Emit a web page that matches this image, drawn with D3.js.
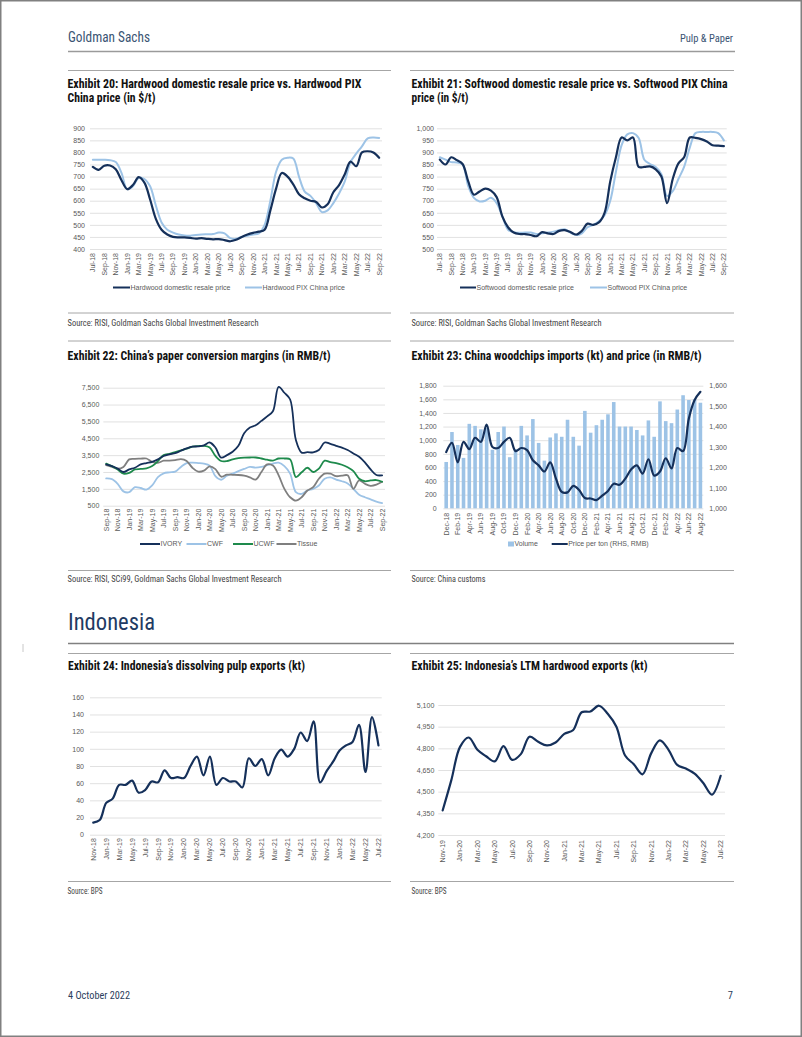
<!DOCTYPE html>
<html><head><meta charset="utf-8">
<script src="https://cdn.jsdelivr.net/npm/d3@7"></script>
<style>body{margin:0;background:#fff;}svg{display:block;}</style>
</head><body>
<script>
// ---------------- DATA ----------------
const months = ["Jul-18","Aug-18","Sep-18","Oct-18","Nov-18","Dec-18",
"Jan-19","Feb-19","Mar-19","Apr-19","May-19","Jun-19","Jul-19","Aug-19","Sep-19","Oct-19","Nov-19","Dec-19",
"Jan-20","Feb-20","Mar-20","Apr-20","May-20","Jun-20","Jul-20","Aug-20","Sep-20","Oct-20","Nov-20","Dec-20",
"Jan-21","Feb-21","Mar-21","Apr-21","May-21","Jun-21","Jul-21","Aug-21","Sep-21","Oct-21","Nov-21","Dec-21",
"Jan-22","Feb-22","Mar-22","Apr-22","May-22","Jun-22","Jul-22","Aug-22","Sep-22"];

// Exhibit 20 (Jul-18 .. Sep-22)
const ex20Cats = months;
const hwResale = [740,728,745,746,730,685,648,665,698,675, 605,525,480,460,450,448,448,446,443,445, 442,440,441,437,432,438,450,460,467,472, 480,560,650,715,700,668,627,610,600,595, 572,585,635,665,710,762,743,800,805,800, 778];
const hwPix    = [770,770,770,768,760,715,648,660,695,690, 660,580,510,480,468,460,456,455,458,460, 461,462,468,465,445,442,450,455,460,465, 500,600,720,770,778,775,700,638,620,590, 553,560,590,630,680,760,795,825,858,862, 860];
const ex20Ticks = [400,450,500,550,600,650,700,750,800,850,900];

// Exhibit 21 (Jul-18 .. Sep-22)
const ex21Cats = months;
const swResale = [870,850,880,868,852,780,725,738,750,742, 715,635,590,568,562,562,558,553,570,565, 562,575,578,570,560,575,605,600,610,650, 780,880,962,950,962,840,840,842,830,800, 690,790,855,880,962,960,955,945,930,928, 926];
const swPix    = [880,870,860,858,850,760,712,697,700,712, 690,635,580,570,567,568,568,562,565,568, 572,578,582,568,558,565,590,600,615,640, 700,820,930,975,980,960,870,852,840,810, 720,740,790,840,920,980,985,985,985,980, 950];
const ex21Ticks = [500,550,600,650,700,750,800,850,900,950,1000];

// Exhibit 22 (Sep-18 .. Sep-22)
const ex22Cats = months.slice(2, 51);
const ivory  = [2950,2850,2700,2500,2650,2750,2950,3030,3100,3250, 3450,3550,3620,3760,3900,4000,4020,4080,4250,3950, 3350,3500,3700,4050,4800,5140,5270,5530,5800,6100, 7550,7200,6800,4400,3650,3680,3660,3800,4250,4170, 4050,3950,3800,3600,3400,3070,2650,2320,2300];
const cwf    = [2120,2080,1800,1350,1300,1600,1550,1450,1700,2200, 2420,2480,2520,2800,3030,3050,3030,3000,2880,2250, 2040,2280,2400,2550,2680,2800,2760,2800,2900,3000, 3050,2850,2400,1300,1200,1400,1500,1700,2100,2180, 2050,1950,1820,1500,1150,1000,880,740,650];
const ucwf   = [3000,2850,2650,2400,2450,2650,2680,2720,2850,3150, 3500,3580,3680,3780,3880,4000,4040,4050,3950,3450, 3150,3150,3250,3320,3350,3360,3360,3300,3230,3180, 3300,3300,3250,2200,2480,2750,2500,2700,3170,3080, 3030,2930,2780,2550,2100,1950,2000,2020,1920];
const tissue = [2900,2800,2700,2800,3250,3280,3290,3300,3100,3040, 3170,3170,3200,3260,3150,2750,2520,2580,2830,2670, 2220,2340,2330,2320,2280,2180,2050,2500,2950,2880, 2300,1500,1000,800,1000,1400,1600,2100,2400,2400, 2250,2280,2300,1500,2000,1800,1680,1750,1920];
const ex22Ticks = [500,1500,2500,3500,4500,5500,6500,7500];

// Exhibit 23 (Dec-18 .. Aug-22)
const ex23Cats = months.slice(5, 50);
const woodVolume = [680,1120,930,740,1240,1210,1160,1180,860,1120, 1200,750,870,1210,1070,1310,960,700,1040,1100, 1050,1300,1050,920,1430,1110,1220,1300,1380,1560, 1200,1200,1200,1150,1070,1290,1050,1570,1280,1250, 1450,1660,1590,1600,1550];
const woodPrice  = [1275,1320,1225,1325,1290,1345,1325,1410,1300,1295, 1325,1345,1280,1295,1285,1235,1210,1180,1225,1145, 1080,1078,1110,1090,1050,1048,1040,1062,1085,1120, 1115,1145,1190,1210,1170,1240,1160,1180,1245,1195, 1295,1280,1440,1530,1570];
const ex23LeftTicks  = [0,200,400,600,800,1000,1200,1400,1600,1800];
const ex23RightTicks = [1000,1100,1200,1300,1400,1500,1600];

// Exhibit 24 (Nov-18 .. Jul-22)
const ex24Cats = months.slice(4, 49);
const dissolvingPulp = [14,17,37,42,58,58,63,49,52,62, 61,75,66,67,66,80,91,69,91,58, 66,62,62,55,89,80,88,69,89,99, 91,100,119,109,132,61,74,85,98,104, 108,128,73,137,104];
const ex24Ticks = [0,20,40,60,80,100,120,140,160];

// Exhibit 25 (Nov-19 .. Jul-22)
const ex25Cats = months.slice(16, 49);
const ltmHardwood = [4370,4580,4810,4875,4790,4745,4710,4815,4720,4760, 4880,4845,4820,4840,4900,4925,5050,5055,5095,5040, 4950,4750,4690,4620,4765,4855,4790,4685,4660,4625, 4560,4480,4610];
const ex25Ticks = [4200,4350,4500,4650,4800,4950,5100];

// ---------------- STYLE ----------------
const F_COND = "'Roboto Condensed','Liberation Sans Narrow','Arial Narrow','DejaVu Sans Condensed',Roboto,'Liberation Sans',sans-serif";
const F_AX = "'Liberation Sans',Arial,Helvetica,sans-serif";
const NAVY = "#15305a", LIGHT = "#9dc3e6", GREEN = "#1e8a4c", GRAY = "#7f7f7f";
const GRID = "#d9d9d9", TICK = "#595959";

const svg = d3.select("body").append("svg").attr("width",802).attr("height",1037);
svg.append("rect").attr("width",802).attr("height",1037).attr("fill","#fff");
svg.append("rect").attr("x",0.75).attr("y",0.75).attr("width",800.5).attr("height",1035.5)
  .attr("fill","none").attr("stroke","#808080").attr("stroke-width",1.5);

function label(x, y, s, o = {}) {
  const t = svg.append("text").attr("x", x).attr("y", y).text(s)
    .attr("font-family", o.family || F_COND).attr("font-size", o.size || 9)
    .attr("font-weight", o.weight || 400).attr("fill", o.fill || "#222")
    .attr("text-anchor", o.anchor || "start");
  if (o.width) t.attr("textLength", o.width).attr("lengthAdjust", "spacingAndGlyphs");
  return t;
}
function rule(x1, x2, y, color = "#a6a6a6", w = 1) {
  svg.append("line").attr("x1", x1).attr("x2", x2).attr("y1", y).attr("y2", y)
    .attr("stroke", color).attr("stroke-width", w);
}

// ---------------- PAGE FRAME ----------------
label(68, 41.5, "Goldman Sachs", {size: 14, fill: "#3a5473", width: 82});
label(733, 41.5, "Pulp & Paper", {size: 11, fill: "#3a5473", anchor: "end", width: 53});
rule(68, 735, 51.5, "#9a9a9a", 1.3);

[[70.5],[313],[341],[570.5],[653.5],[881.5]].forEach(([y]) => { rule(68, 391, y); rule(410, 734, y); });
rule(68, 734, 643.5, "#808080", 1.5);

label(67.5, 88, "Exhibit 20: Hardwood domestic resale price vs. Hardwood PIX", {size: 12, weight: 700, fill: "#111", width: 294});
label(67.5, 102, "China price (in $/t)", {size: 12, weight: 700, fill: "#111", width: 88});
label(411.5, 88, "Exhibit 21: Softwood domestic resale price vs. Softwood PIX China", {size: 12, weight: 700, fill: "#111", width: 316});
label(411.5, 102, "price (in $/t)", {size: 12, weight: 700, fill: "#111", width: 57});
label(67.5, 359.5, "Exhibit 22: China\u2019s paper conversion margins (in RMB/t)", {size: 12, weight: 700, fill: "#111", width: 263});
label(411.5, 359.5, "Exhibit 23: China woodchips imports (kt) and price (in RMB/t)", {size: 12, weight: 700, fill: "#111", width: 290});
label(68, 670, "Exhibit 24: Indonesia\u2019s dissolving pulp exports (kt)", {size: 12, weight: 700, fill: "#111", width: 237});
label(411.5, 670, "Exhibit 25: Indonesia\u2019s LTM hardwood exports (kt)", {size: 12, weight: 700, fill: "#111", width: 236});

label(67.5, 326, "Source: RISI, Goldman Sachs Global Investment Research", {size: 9, fill: "#444", width: 191});
label(411.5, 326, "Source: RISI, Goldman Sachs Global Investment Research", {size: 9, fill: "#444", width: 190});
label(67.5, 582, "Source: RISI, SCi99, Goldman Sachs Global Investment Research", {size: 9, fill: "#444", width: 214});
label(411.5, 582, "Source: China customs", {size: 9, fill: "#444", width: 74});
label(67.5, 894, "Source: BPS", {size: 9, fill: "#444", width: 35});
label(411.5, 894, "Source: BPS", {size: 9, fill: "#444", width: 35});

label(68, 630, "Indonesia", {size: 23, fill: "#1f3b63", width: 87});
svg.append("line").attr("x1", 23).attr("x2", 23).attr("y1", 644).attr("y2", 652).attr("stroke", "#c8c8c8").attr("stroke-width", 1);

label(68, 999, "4 October 2022", {size: 10.5, fill: "#2b3e5c", width: 62});
label(733, 999, "7", {size: 10.5, fill: "#2b3e5c", anchor: "end"});

// ---------------- CHART HELPERS ----------------
const fmt = d3.format(",");
function styleTicks(sel) {
  sel.selectAll("text").attr("fill", TICK).attr("font-family", F_AX).attr("font-size", 7);
}
function frame(c) {
  const x = d3.scaleBand().domain(c.cats).range([c.x0, c.x1]).padding(0);
  const y = d3.scaleLinear().domain(c.yDomain).range([c.yBottom, c.yTop]);
  const gy = svg.append("g").attr("transform", `translate(${c.x0},0)`)
    .call(d3.axisLeft(y).tickValues(c.yTicks).tickSize(-(c.x1 - c.x0)).tickPadding(c.tickPad).tickFormat(fmt));
  gy.select(".domain").remove();
  gy.selectAll("line").attr("stroke", GRID).attr("stroke-width", 0.8);
  styleTicks(gy);
  const gx = svg.append("g").attr("transform", `translate(0,${c.yBottom})`)
    .call(d3.axisBottom(x).tickValues(c.cats.filter((d, i) => i % 2 === 0)).tickSize(0));
  gx.select(".domain").remove();
  styleTicks(gx);
  gx.selectAll("text").attr("transform", "rotate(-90)").attr("x", -(c.xPad || 4)).attr("y", 0)
    .attr("dy", "0.35em").attr("text-anchor", "end");
  return {x, y};
}
function drawLine(x, y, cats, vals, color, w) {
  const line = d3.line().x((d, i) => x(cats[i]) + x.bandwidth() / 2).y(d => y(d))
    .curve(d3.curveCatmullRom.alpha(0.5));
  svg.append("path").datum(vals).attr("d", line).attr("fill", "none")
    .attr("stroke", color).attr("stroke-width", w).attr("stroke-linejoin", "round").attr("stroke-linecap", "round");
}
function legendLine(x1, x2, y, color, text, w = 2) {
  svg.append("line").attr("x1", x1).attr("x2", x2).attr("y1", y).attr("y2", y)
    .attr("stroke", color).attr("stroke-width", w);
  svg.append("text").attr("x", x2 + 0.5).attr("y", y).attr("dy", "0.35em").text(text)
    .attr("font-family", F_AX).attr("font-size", 7).attr("fill", TICK);
}

// ---------------- EXHIBIT 20 ----------------
{
  const c = {cats: ex20Cats, x0: 90, x1: 382, yDomain: [400, 900], yBottom: 249, yTop: 128.3, yTicks: ex20Ticks, tickPad: 5, xPad: 4};
  const {x, y} = frame(c);
  drawLine(x, y, c.cats, hwPix, LIGHT, 2);
  drawLine(x, y, c.cats, hwResale, NAVY, 2.2);
  legendLine(113, 130, 287.5, NAVY, "Hardwood domestic resale price");
  legendLine(245, 262, 287.5, LIGHT, "Hardwood PIX China price");
}
// ---------------- EXHIBIT 21 ----------------
{
  const c = {cats: ex21Cats, x0: 437, x1: 726.7, yDomain: [500, 1000], yBottom: 249, yTop: 128.3, yTicks: ex21Ticks, tickPad: 3, xPad: 4};
  const {x, y} = frame(c);
  drawLine(x, y, c.cats, swPix, LIGHT, 2);
  drawLine(x, y, c.cats, swResale, NAVY, 2.2);
  legendLine(460, 476, 287.5, NAVY, "Softwood domestic resale price");
  legendLine(590, 607, 287.5, LIGHT, "Softwood PIX China price");
}
// ---------------- EXHIBIT 22 ----------------
{
  const c = {cats: ex22Cats, x0: 103.3, x1: 385, yDomain: [500, 7500], yBottom: 505.7, yTop: 387.7, yTicks: ex22Ticks, tickPad: 4, xPad: 3};
  const {x, y} = frame(c);
  drawLine(x, y, c.cats, cwf, LIGHT, 1.8);
  drawLine(x, y, c.cats, tissue, GRAY, 1.8);
  drawLine(x, y, c.cats, ucwf, GREEN, 1.8);
  drawLine(x, y, c.cats, ivory, NAVY, 1.8);
  legendLine(140, 160, 544, NAVY, "IVORY");
  legendLine(186.5, 206.5, 544, LIGHT, "CWF");
  legendLine(233, 253, 544, GREEN, "UCWF");
  legendLine(276.5, 296.5, 544, GRAY, "Tissue");
}
// ---------------- EXHIBIT 23 ----------------
{
  const c = {cats: ex23Cats, x0: 443.3, x1: 703.3, yDomain: [0, 1800], yBottom: 508.3, yTop: 385.7, yTicks: ex23LeftTicks, tickPad: 6.6, xPad: 4.5};
  const {x, y} = frame(c);
  const yR = d3.scaleLinear().domain([1000, 1600]).range([c.yBottom, c.yTop]);
  const gr = svg.append("g").attr("transform", `translate(${c.x1},0)`)
    .call(d3.axisRight(yR).tickValues(ex23RightTicks).tickSize(0).tickPadding(6).tickFormat(fmt));
  gr.select(".domain").remove();
  styleTicks(gr);
  const bw = x.bandwidth() * 0.62;
  svg.append("g").selectAll("rect").data(woodVolume).join("rect")
    .attr("x", (d, i) => x(c.cats[i]) + (x.bandwidth() - bw) / 2).attr("width", bw)
    .attr("y", d => y(d)).attr("height", d => y(0) - y(d)).attr("fill", LIGHT);
  drawLine(x, yR, c.cats, woodPrice, NAVY, 2.2);
  svg.append("rect").attr("x", 508).attr("y", 541.5).attr("width", 6).attr("height", 5).attr("fill", LIGHT);
  svg.append("text").attr("x", 514.5).attr("y", 544).attr("dy", "0.35em").text("Volume")
    .attr("font-family", F_AX).attr("font-size", 7).attr("fill", TICK);
  legendLine(551.7, 567.7, 544, NAVY, "Price per ton (RHS, RMB)");
}
// ---------------- EXHIBIT 24 ----------------
{
  const c = {cats: ex24Cats, x0: 90, x1: 381.7, yDomain: [0, 160], yBottom: 834.7, yTop: 697.3, yTicks: ex24Ticks, tickPad: 6, xPad: 3.5};
  const {x, y} = frame(c);
  drawLine(x, y, c.cats, dissolvingPulp, NAVY, 2.2);
}
// ---------------- EXHIBIT 25 ----------------
{
  const c = {cats: ex25Cats, x0: 438.3, x1: 725, yDomain: [4200, 5100], yBottom: 835, yTop: 705, yTicks: ex25Ticks, tickPad: 4, xPad: 5};
  const {x, y} = frame(c);
  drawLine(x, y, c.cats, ltmHardwood, NAVY, 2.2);
}
</script>
</body></html>
